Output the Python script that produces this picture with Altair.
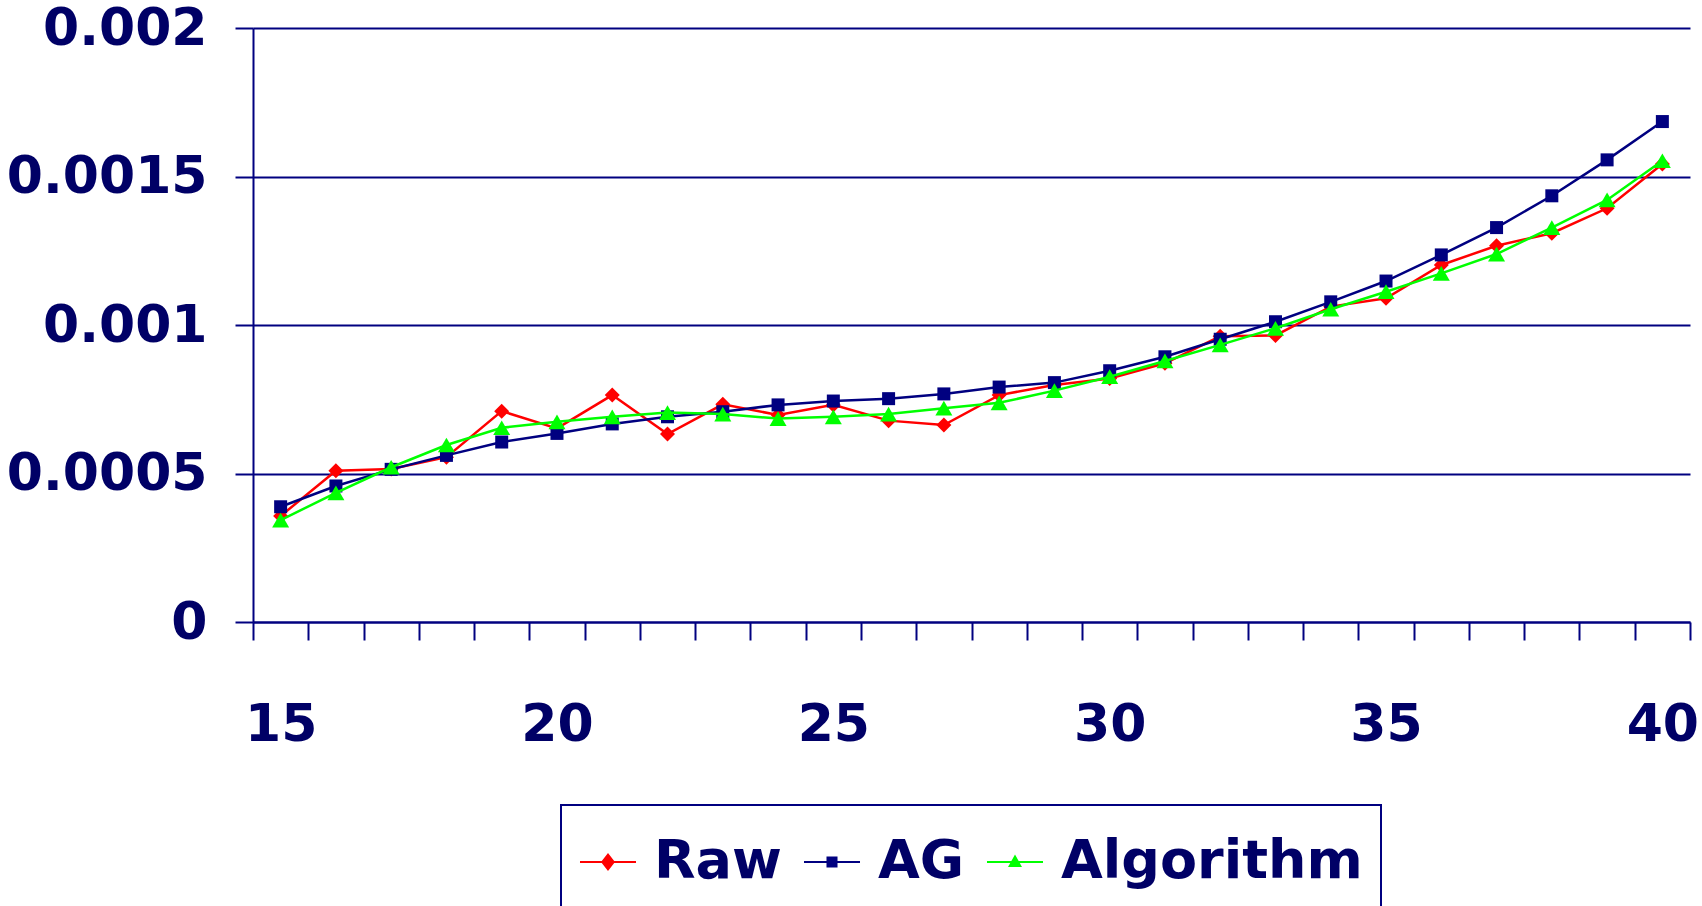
import altair as alt
import pandas as pd

# Age groups on the horizontal axis
ages = list(range(15, 41))

raw = [0.000357, 0.000509, 0.000515, 0.000555, 0.000710, 0.000652, 0.000764,
       0.000633, 0.000733, 0.000697, 0.000731, 0.000678, 0.000663, 0.000764,
       0.000798, 0.000820, 0.000871, 0.000962, 0.000965, 0.001062, 0.001090,
       0.001202, 0.001267, 0.001309, 0.001393, 0.001542]

ag = [0.000388, 0.000458, 0.000514, 0.000561, 0.000606, 0.000635, 0.000667,
      0.000691, 0.000708, 0.000731, 0.000744, 0.000752, 0.000768, 0.000791,
      0.000806, 0.000846, 0.000893, 0.000952, 0.001011, 0.001078, 0.001148,
      0.001236, 0.001328, 0.001435, 0.001556, 0.001685]

algorithm = [0.000343, 0.000435, 0.000521, 0.000596, 0.000654, 0.000674, 0.000691,
             0.000705, 0.000700, 0.000685, 0.000691, 0.000700, 0.000720, 0.000738,
             0.000779, 0.000826, 0.000879, 0.000933, 0.000989, 0.001053, 0.001112,
             0.001174, 0.001239, 0.001328, 0.001421, 0.001553]

series_names = ["Raw", "AG", "Algorithm"]
series_colors = ["#FF0000", "#000080", "#00FF00"]
series_shapes = ["diamond", "square", "triangle-up"]
marker_sizes = [225, 169, 289]

# Legend keys: a short line with the series marker sitting on it (all filled paths)
LINE = "M-0.737,-0.026H0.737V0.026H-0.737Z"
legend_paths = [
    LINE + "M0,-0.237L0.184,0L0,0.237L-0.184,0Z",
    LINE + "M-0.145,-0.145H0.145V0.145H-0.145Z",
    LINE + "M0,-0.2L0.184,0.13H-0.184Z",
]

frames = []
for name, vals in zip(series_names, [raw, ag, algorithm]):
    frames.append(pd.DataFrame({"age": ages, "series": name, "key": name, "value": vals}))
df = pd.concat(frames, ignore_index=True)

NAVY = "#000080"
TEXT = "#000066"
FONT = "DejaVu Sans"
PLOT_W, PLOT_H = 1437, 594
half_step = PLOT_W / 26 / 2

x = alt.X(
    "age:Q",
    scale=alt.Scale(domain=[14.5, 40.5], nice=False, zero=False),
    axis=alt.Axis(
        title=None,
        values=[a + 0.5 for a in range(14, 41)],
        labelExpr="(datum.value + 0.5) % 5 === 0 ? format(datum.value + 0.5, 'd') : ''",
        labelOffset=half_step,
        labelOverlap=False,
        labelBound=False,
        labelFlush=False,
        labelPadding=100,
        labelBaseline="alphabetic",
        tickSize=18,
        tickWidth=2,
        tickColor=NAVY,
        domainColor=NAVY,
        domainWidth=2,
        grid=False,
        labelFont=FONT,
        labelFontSize=52,
        labelFontWeight="bold",
        labelColor=TEXT,
    ),
)
y = alt.Y(
    "value:Q",
    scale=alt.Scale(domain=[0, 0.002], nice=False),
    axis=alt.Axis(
        title=None,
        values=[0, 0.0005, 0.001, 0.0015, 0.002],
        format="~g",
        tickSize=18,
        tickWidth=2,
        tickColor=NAVY,
        domainColor=NAVY,
        domainWidth=2,
        grid=True,
        gridColor=NAVY,
        gridWidth=2,
        labelPadding=28,
        labelLimit=400,
        labelFont=FONT,
        labelFontSize=52,
        labelFontWeight="bold",
        labelColor=TEXT,
    ),
)

color = alt.Color(
    "series:N",
    scale=alt.Scale(domain=series_names, range=series_colors),
    legend=None,
)
shape = alt.Shape(
    "series:N",
    scale=alt.Scale(domain=series_names, range=series_shapes),
    legend=None,
)

layers = []
for name, size in zip(series_names, marker_sizes):
    base = alt.Chart(df).transform_filter(alt.datum.series == name)
    layers.append(base.mark_line(strokeWidth=2.5).encode(x=x, y=y, color=color))
    layers.append(
        base.mark_point(filled=True, size=size, opacity=1).encode(
            x=x, y=y, color=color, shape=shape
        )
    )

# Legend-only layer: no rows survive the filter, the explicit domains build the keys
legend = alt.Legend(
    title=None,
    orient="none",
    legendX=308,
    legendY=777,
    direction="horizontal",
    strokeColor=NAVY,
    padding=18,
    labelFont=FONT,
    labelFontSize=54,
    labelFontWeight="bold",
    labelColor=TEXT,
    labelOffset=7,
    labelLimit=600,
    columnPadding=18,
    symbolSize=5776,
    symbolOffset=-10,
    symbolOpacity=1,
)
key_layer = (
    alt.Chart(df)
    .transform_filter("false")
    .mark_point(filled=True, size=5776, opacity=1)
    .encode(
        x=x,
        y=y,
        color=alt.Color("key:N", scale=alt.Scale(domain=series_names, range=series_colors), legend=legend),
        shape=alt.Shape("key:N", scale=alt.Scale(domain=series_names, range=legend_paths), legend=legend),
    )
)
layers.append(key_layer)

chart = (
    alt.layer(*layers)
    .resolve_scale(color="independent", shape="independent")
    .properties(
        width=PLOT_W,
        height=PLOT_H,
        autosize=alt.AutoSizeParams(type="none"),
        padding={"left": 253, "top": 28, "right": 12, "bottom": 284},
        background="white",
    )
    .configure_view(stroke=None)
    .configure_legend(strokeWidth=2)
)

chart.save("out.html", embed_options={"renderer": "svg", "actions": False})
